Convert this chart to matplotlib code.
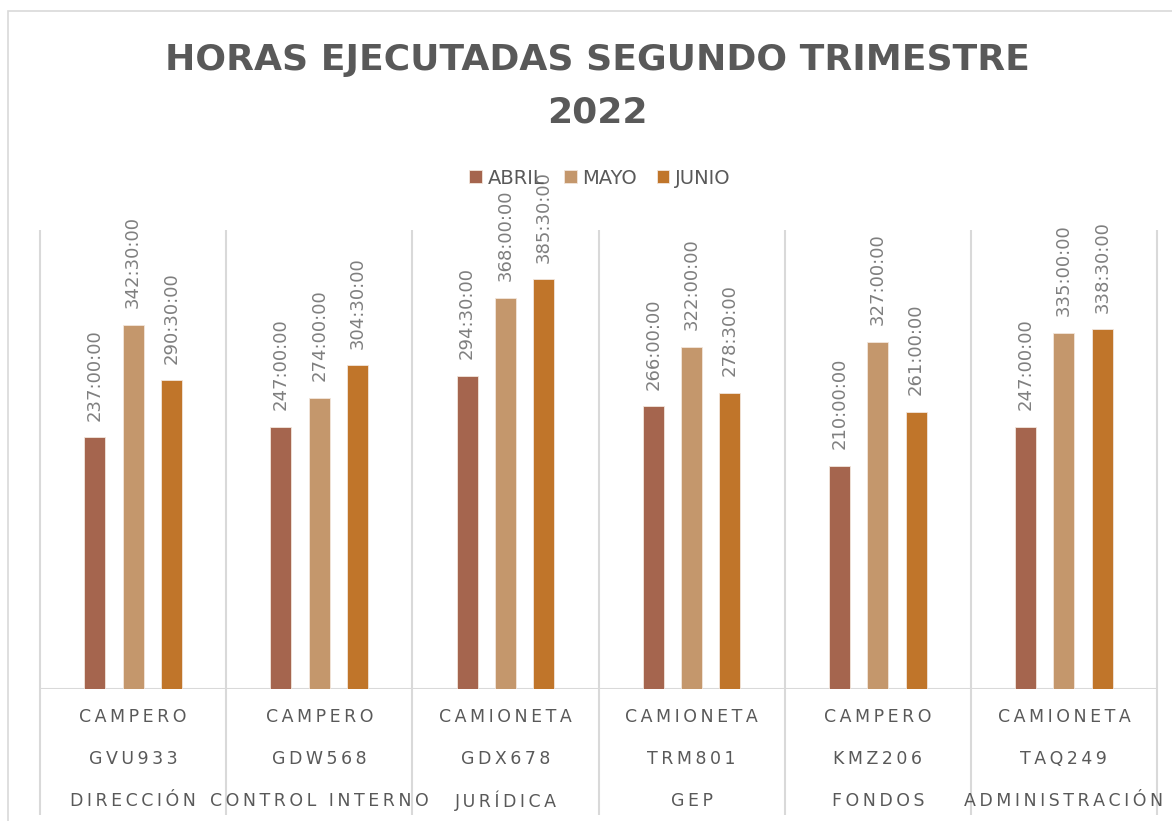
import numpy as np
import matplotlib
matplotlib.use('Agg')
from matplotlib import pyplot as plt
import matplotlib.patches as patches

# ---DATA--- (hours executed)
tipos = ['CAMPERO', 'CAMPERO', 'CAMIONETA', 'CAMIONETA', 'CAMPERO', 'CAMIONETA']
placas = ['GVU933', 'GDW568', 'GDX678', 'TRM801', 'KMZ206', 'TAQ249']
areas = ['DIRECCIÓN', 'CONTROL INTERNO', 'JURÍDICA', 'GEP', 'FONDOS', 'ADMINISTRACIÓN']
meses = ['ABRIL', 'MAYO', 'JUNIO']
abril = [237.0, 247.0, 294.5, 266.0, 210.0, 247.0]
mayo = [342.5, 274.0, 368.0, 322.0, 327.0, 335.0]
junio = [290.5, 304.5, 385.5, 278.5, 261.0, 338.5]

colores = ['#A5654E', '#C4976C', '#C0752A']
gris = '#595959'
linea = '#D9D9D9'


def fmt_horas(h):
    hh = int(h)
    mm = int(round((h - hh) * 60))
    return f"{hh}:{mm:02d}:00"


def espaciar(s):
    # letter spacing like the original (thin spaces between chars)
    return '\u2009'.join(s)


W, H = 1172, 821
fig = plt.figure(figsize=(W / 100, H / 100), dpi=100)

# outer chart border
fig.patches.append(patches.Rectangle((8 / W, -0.1), 1.2, 1 - 11 / H + 0.1,
                                     transform=fig.transFigure, fill=False,
                                     edgecolor=linea, linewidth=1.2))

ax = fig.add_axes([40 / W, 1 - 689 / H, (1157 - 40) / W, (689 - 230) / H])
ax.set_xlim(-0.5, 5.5)
ax.set_ylim(0, 432)
for s in ax.spines.values():
    s.set_visible(False)
ax.set_xticks([])
ax.set_yticks([])

x = np.arange(len(tipos))
ancho = 0.113
paso = 0.206
series = [abril, mayo, junio]
for i, (vals, c, m) in enumerate(zip(series, colores, meses)):
    pos = x + (i - 1) * paso
    ax.bar(pos, vals, width=ancho, color=c, edgecolor='#F2E6DC', linewidth=0.6,
           label=m, zorder=3)
    for px, v in zip(pos, vals):
        ax.annotate(fmt_horas(v), (px, v), xytext=(0, 12), textcoords='offset points',
                    rotation=90, ha='center', va='bottom', fontsize=13,
                    color='#7F7F7F', zorder=4)

# baseline and category separators
ax.axhline(0, color=linea, linewidth=1.5, zorder=2)
trans = ax.get_xaxis_transform()
ax.vlines(np.arange(-0.5, 6.0, 1.0), -0.275, 1, colors=linea, linewidth=1.5,
          transform=trans, clip_on=False, zorder=1)

# multi-level category labels
filas = [(tipos, -0.062), (placas, -0.153), (areas, -0.243)]
for etiquetas, yy in filas:
    for xi, t in zip(x, etiquetas):
        ax.text(xi, yy, espaciar(t), transform=trans, ha='center', va='center',
                fontsize=12.5, color=gris)

# title
fig.text(597 / W, 1 - 60 / H, 'HORAS EJECUTADAS SEGUNDO TRIMESTRE', ha='center',
         va='center', fontsize=26, fontweight='bold', color=gris)
fig.text(597 / W, 1 - 112 / H, '2022', ha='center', va='center', fontsize=26,
         fontweight='bold', color=gris)

# legend
leg = fig.legend(loc='center', bbox_to_anchor=(600 / W, 1 - 178 / H), ncol=3,
                 frameon=False, fontsize=14, handlelength=0.65, handleheight=0.65,
                 handletextpad=0.3, columnspacing=1.0)
for t in leg.get_texts():
    t.set_color(gris)

fig.savefig('out.png', dpi=100)
